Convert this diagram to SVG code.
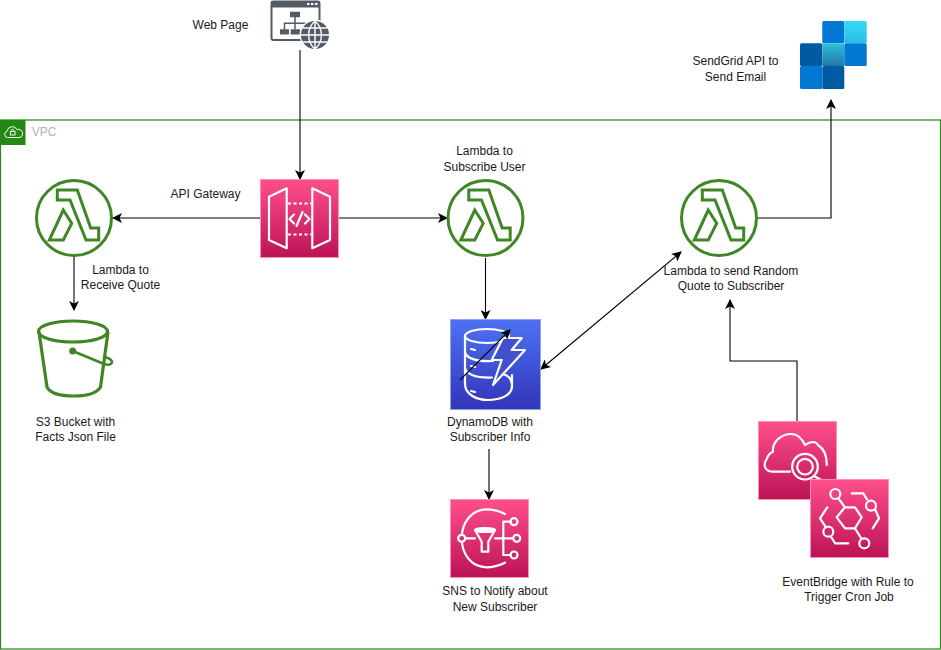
<svg xmlns="http://www.w3.org/2000/svg" width="941" height="650" viewBox="0 0 941 650">
<style>
text{font-family:"Liberation Sans",Arial,sans-serif;font-size:12px;fill:#1a1a1a;text-anchor:middle}
.c{fill:none;stroke:#000;stroke-width:1.1}
.g{fill:none;stroke:#3f8624;stroke-width:3;stroke-linejoin:miter}
.w{fill:none;stroke:#fff;stroke-width:2.2;stroke-linejoin:round;stroke-linecap:round}
.pk{stroke:#ff8fb5;stroke-width:1}
</style>
<defs>
<linearGradient id="pink" x1="0" y1="0" x2="0" y2="1"><stop offset="0" stop-color="#ff4f8b"/><stop offset="1" stop-color="#bc1356"/></linearGradient>
<linearGradient id="blue" x1="0" y1="0" x2="0" y2="1"><stop offset="0" stop-color="#4d72f3"/><stop offset="1" stop-color="#3334b9"/></linearGradient>
<linearGradient id="teal" x1="0" y1="0" x2="0" y2="1"><stop offset="0" stop-color="#2fc0d8"/><stop offset="1" stop-color="#1f78ad"/></linearGradient>
<linearGradient id="cyan" x1="0" y1="0" x2="0" y2="1"><stop offset="0" stop-color="#36d8f8"/><stop offset="1" stop-color="#29bfe4"/></linearGradient>
<marker id="a" viewBox="0 0 10 10" refX="9" refY="5" markerWidth="10" markerHeight="10" markerUnits="userSpaceOnUse" orient="auto-start-reverse"><path d="M0 0L10 5L0 10L2.5 5Z" fill="#000"/></marker>
<g id="lam">
<circle r="37.5" class="g"/>
<path class="g" d="M-16.7-28H3.3L16.7 10H24.7V22H12L-4-18H-16.7ZM-10.7-8L-24.7 22H-10.700L-2.300 5.300Z"/>
</g>
</defs>

<g id="vpc">
<rect x="0.5" y="120" width="940" height="529" fill="none" stroke="#248814" stroke-width="1.2"/>
<rect x="0" y="120" width="25.5" height="25" fill="#248814"/>
<path d="M7.5 137.5a3.2 3.2 0 0 1-.4-6.3a5.2 5.2 0 0 1 9.8-1.6a4 4 0 0 1 3 7.9Z" fill="none" stroke="#fff" stroke-width="1"/>
<rect x="10.5" y="131.5" width="4.5" height="3.5" fill="none" stroke="#fff" stroke-width="0.9"/>
<path d="M11.5 131.5v-1.2a1.3 1.3 0 0 1 2.5 0v1.2" fill="none" stroke="#fff" stroke-width="0.9"/>
<text x="44" y="136" style="fill:#aab7b8">VPC</text>
</g>

<g id="connectors">
<path class="c" d="M300 50V179" marker-end="url(#a)"/>
<path class="c" d="M260 218H113" marker-end="url(#a)"/>
<path class="c" d="M339 218H447" marker-end="url(#a)"/>
<path class="c" d="M74 256V310" marker-end="url(#a)"/>
<path class="c" d="M485.500 258V319" marker-end="url(#a)"/>
<path class="c" d="M489 449V499" marker-end="url(#a)"/>
<path class="c" d="M541 369L681 252" marker-start="url(#a)" marker-end="url(#a)"/>
<path class="c" d="M757 218H831V100" marker-end="url(#a)"/>
<path class="c" d="M797 421V361H730V300" marker-end="url(#a)"/>
</g>

<g id="web-page">
<text x="220.500" y="29">Web Page</text>
<rect x="271.500" y="1.500" width="48" height="38.500" rx="2" fill="none" stroke="#545b64" stroke-width="2"/>
<path d="M271 1h49v6.500h-49Z" fill="#545b64"/>
<path d="M307 3h2.500v2h-2.500ZM311 3h2.500v2h-2.500ZM315 3h2.500v2h-2.500Z" fill="#fff"/>
<path d="M290 11.700h10v5.600h-10ZM280 29.300h9v5.200h-9ZM290.700 29.300h9.300v5.200h-9.300Z" fill="#545b64"/>
<path d="M295 17v6.300M284.500 29.500v-6.200H307M295 23.300v6" fill="none" stroke="#545b64" stroke-width="1.500"/>
<circle cx="315" cy="35" r="15.500" fill="#fff"/>
<circle cx="315" cy="35" r="14" fill="#545b64"/>
<path d="M301 35h28M303 28h24M303 42h24M315 21v28M315 21c-8.500 7-8.500 21 0 28M315 21c8.500 7 8.500 21 0 28" fill="none" stroke="#fff" stroke-width="1.400"/>
</g>

<g id="sendgrid">
<text x="735.500" y="65">SendGrid API to</text>
<text x="735.500" y="81">Send Email</text>
<rect x="822.300" y="21" width="22" height="22.300" rx="1.500" fill="#0078d4"/>
<rect x="844.300" y="21" width="22.400" height="22.300" rx="1.500" fill="url(#cyan)"/>
<rect x="800" y="43.300" width="22.300" height="22.700" rx="1.500" fill="#005ba1"/>
<rect x="822.300" y="43.300" width="22" height="22.700" fill="url(#teal)"/>
<rect x="844.300" y="43.300" width="22.400" height="22.700" rx="1.500" fill="#0078d4"/>
<rect x="800" y="66" width="22.300" height="23" rx="1.500" fill="#0078d4"/>
<rect x="822.300" y="66" width="22" height="23" rx="1.500" fill="#005ba1"/>
</g>

<g id="lambda-receive">
<use href="#lam" x="74" y="218"/>
<text x="120.500" y="274">Lambda to</text>
<text x="120.500" y="289">Receive Quote</text>
</g>

<g id="api-gateway">
<text x="205.500" y="198">API Gateway</text>
<rect x="260.500" y="179.500" width="78" height="78" fill="url(#pink)" class="pk"/>
<path class="w" d="M269 196.700L286.700 188.300V248.300L269 240ZM330 196.700L312.300 188.300V248.300L330 240Z"/>
<path class="w" stroke-dasharray="3 2.500" style="stroke-linecap:butt" d="M288 203.500H311M288 234.500H311"/>
<path class="w" d="M294 214.500L289.500 219L294 223.500M305 214.500L309.500 219L305 223.500M302.500 212L296.500 226"/>
</g>

<g id="lambda-subscribe">
<use href="#lam" x="485.500" y="218"/>
<text x="484.500" y="155">Lambda to</text>
<text x="484.500" y="171">Subscribe User</text>
</g>

<g id="lambda-send">
<use href="#lam" x="719" y="218"/>
<text x="731" y="275">Lambda to send Random</text>
<text x="731" y="290">Quote to Subscriber</text>
</g>

<g id="s3">
<path d="M39 332L47 387C50 393 60 396 73.500 396C88 396 97 393 100.500 387L108 332" fill="none" stroke="#3f8624" stroke-width="3.200"/>
<ellipse cx="73" cy="331.500" rx="34.500" ry="10.500" fill="none" stroke="#3f8624" stroke-width="3.200"/>
<circle cx="72.700" cy="351" r="3.500" fill="#3f8624"/>
<path d="M72.700 351L104 364C110 366 113.500 363 111.500 360.500C110 358.500 107 357.500 104.500 357" fill="none" stroke="#3f8624" stroke-width="2.600"/>
<text x="75.500" y="426">S3 Bucket with</text>
<text x="75.500" y="441">Facts Json File</text>
</g>

<g id="dynamodb">
<rect x="450.500" y="319.500" width="90" height="90" fill="url(#blue)" stroke="#8ea5f5" stroke-width="1"/>
<ellipse cx="487" cy="336" rx="22" ry="7" class="w"/>
<path class="w" d="M465 336V384C465 394 476 400 488 400C501 400 512 395 512 386V375M465 352C466 358 476 362 493 361M465 368C467 375 476 378 492 377.500M502 374C508 375 512 378 512 386"/>
<path class="w" d="M471 349l4 1M471 366l4 1M471 391l4 1"/>
<path d="M503 338H521.700L511.700 350H525L493 385L501.700 360H491.700Z" fill="#4250d0" stroke="#fff" stroke-width="2.200" stroke-linejoin="round"/>
<text x="490" y="426">DynamoDB with</text>
<text x="490" y="441">Subscriber Info</text>
</g>
<path id="db-arrow" class="c" d="M460 380L510 330" marker-end="url(#a)"/>

<g id="sns">
<rect x="450.500" y="499.500" width="78" height="78" fill="url(#pink)" class="pk"/>
<path class="w" d="M505 514C498 510 492 509.300 486.700 509.300C472 509.300 461.700 522 461.700 538.300C461.700 555 472 567.300 486.700 567.300C492 567.300 498 566 505 562.700"/>
<circle cx="461.700" cy="538.300" r="3.500" fill="#d92d6f" stroke="#fff" stroke-width="2.200"/>
<path class="w" d="M465.500 538.300H475"/>
<path class="w" d="M475 530H495L488.300 541.700V551.700H481.700V541.700Z"/>
<ellipse cx="485" cy="530" rx="10" ry="2" class="w"/>
<path class="w" d="M495 538.300H513M503.300 521.700V555M503.300 521.700H510.500M503.300 555H510.500"/>
<circle cx="514" cy="521.700" r="3.500" class="w"/>
<circle cx="516.700" cy="538.300" r="3.500" class="w"/>
<circle cx="514" cy="555" r="3.500" class="w"/>
<text x="495" y="595">SNS to Notify about</text>
<text x="495" y="611">New Subscriber</text>
</g>

<g id="cloudwatch">
<rect x="758.500" y="421.500" width="78" height="78" fill="url(#pink)" class="pk"/>
<path class="w" d="M790 471.700H773C766 471.700 762 466 766.700 459C768 455 770 453 773 451.700C772 443 780 434 791.700 434C797 434 802 439 805 445C811 441 816 441 818 445C824 449 827 456 826.700 465"/>
<circle cx="805" cy="466.700" r="12.800" class="w"/>
<circle cx="805" cy="466.700" r="7.800" class="w"/>
<path class="w" d="M814 476L823 481"/>
</g>

<g id="eventbridge">
<rect x="810.500" y="479.500" width="78" height="78" fill="url(#pink)" class="pk"/>
<path class="w" d="M845 507.300H855L861.700 517.300L855 528.300H845L836.700 517.300Z"/>
<circle cx="835.300" cy="494" r="5" class="w"/>
<path class="w" d="M838.500 498.500L845 507.300M855 528.300L861 538"/>
<circle cx="864.300" cy="543.300" r="5" class="w"/>
<circle cx="871" cy="505.700" r="5" class="w"/>
<path class="w" d="M851.700 493.300H863.300L867 499.300M875 509.300L879 518.300L872.700 528.300"/>
<circle cx="828.300" cy="531.700" r="5" class="w"/>
<path class="w" d="M827.300 507.300L820 518.300L826 527.300M831 536.700L835 543.300H848.300"/>
</g>
<text x="848" y="586">EventBridge with Rule to</text>
<text x="849" y="601">Trigger Cron Job</text>
</svg>
